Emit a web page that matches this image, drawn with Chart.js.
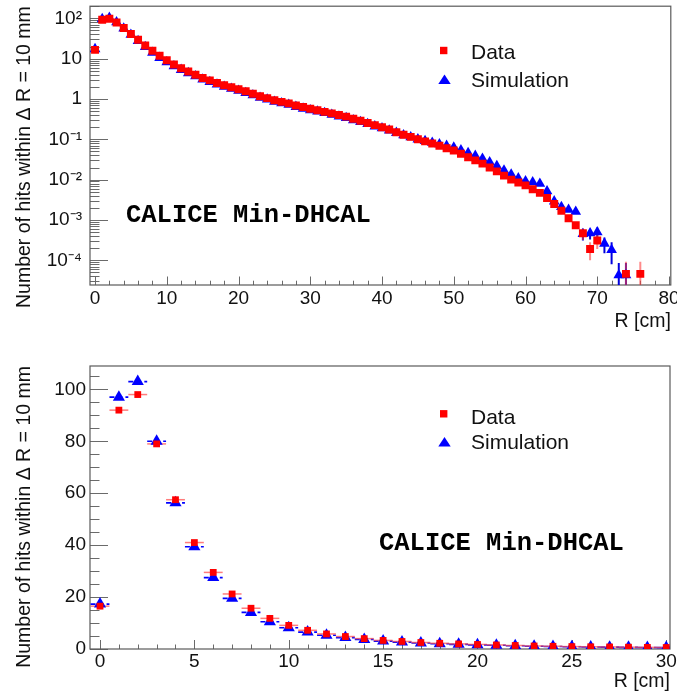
<!DOCTYPE html>
<html><head><meta charset="utf-8">
<script src="https://cdn.jsdelivr.net/npm/chart.js@4.4.1/dist/chart.umd.min.js"></script>
<style>
html,body{margin:0;padding:0;background:#fff;}
#wrap{position:relative;width:677px;height:697px;overflow:hidden;background:#fff;}
canvas{position:absolute;left:0;}
#c1{top:0}
#c2{top:345px}
</style></head><body>
<div id="wrap"><canvas id="c1" width="677" height="345"></canvas><canvas id="c2" width="677" height="352"></canvas></div>
<script>
// ---------------- data ----------------
const R_CM = [0,1,2,3,4,5,6,7,8,9,10,11,12,13,14,15,16,17,18,19,20,21,22,23,24,25,26,27,28,29,30,
  31,32,33,34,35,36,37,38,39,40,41,42,43,44,45,46,47,48,49,50,51,52,53,54,55,56,57,58,59,60,
  61,62,63,64,65,66,67,68,69,70,71,72,73,74,75,76];

const DATA_HITS = [16.5,92,98,79,57.5,41,29.5,21.2,15.7,11.8,9.1,7.2,5.8,4.8,4.0,3.3,2.9,2.5,2.2,1.95,1.75,
  1.55,1.35,1.17,1.05,0.93,0.85,0.78,0.69,0.63,0.575,
  0.525,0.48,0.44,0.40,0.365,0.325,0.29,0.255,0.225,0.20,
  0.175,0.15,0.13,0.115,0.10,0.089,0.079,0.069,0.06,0.053,
  0.044,0.036,0.030,0.025,0.020,0.016,0.0126,0.010,0.0085,0.0072,
  0.0058,0.0047,0.0035,0.0025,0.0017,0.0011,0.00074,0.00047,0.00019,0.00031,
  null,null,null,4.6e-5,null,4.6e-5];

const SIM_HITS = [17.3,97,103,80,56.3,39.4,27.5,19.5,14.1,10.5,8.2,6.5,5.3,4.4,3.7,3.05,2.65,2.3,2.03,1.8,1.6,
  1.42,1.24,1.08,0.97,0.86,0.79,0.72,0.64,0.58,0.53,
  0.49,0.45,0.41,0.37,0.34,0.30,0.27,0.24,0.21,0.19,
  0.167,0.145,0.127,0.113,0.10,0.091,0.083,0.076,0.069,0.063,
  0.054,0.046,0.039,0.033,0.027,0.022,0.017,0.0135,0.0108,0.0092,
  0.0087,0.0079,0.0052,0.0029,0.0021,0.0018,0.0016,0.00045,0.00047,0.0005,
  0.00026,0.00018,4.3e-5,4.3e-5,null,null];

// visible vertical error bars in the tail of the log panel
const DATA_ERR_R = [68,69,70,74,76];
const DATA_ERR   = [1.5e-4,0.9e-4,1.2e-4,4.6e-5,4.6e-5];
const SIM_ERR_R  = [68,69,70,71,72,73,74];
const SIM_ERR    = [1.4e-4,1.4e-4,1.5e-4,1.1e-4,1.0e-4,4.3e-5,4.3e-5];
const BIN_HALF_WIDTH = 0.5;

// tick labels
const TOP_Y_TICKS  = [1e-4,1e-3,1e-2,1e-1,1,10,100];
const TOP_Y_LABELS = ['10\u207B\u2074','10\u207B\u00B3','10\u207B\u00B2','10\u207B\u00B9','1','10','10\u00B2'];
const TOP_X_TICKS  = [0,10,20,30,40,50,60,70,80];
const TOP_X_LABELS = ['0','10','20','30','40','50','60','70','80'];
const BOT_Y_TICKS  = [0,20,40,60,80,100];
const BOT_Y_LABELS = ['0','20','40','60','80','100'];
const BOT_X_TICKS  = [0,5,10,15,20,25,30];
const BOT_X_LABELS = ['0','5','10','15','20','25','30'];

const LEGEND_LABELS = ['Data','Simulation'];
const Y_TITLE = 'Number of hits within \u0394 R = 10 mm';
const X_TITLE = 'R [cm]';
const TAG = 'CALICE Min-DHCAL';

// ---------------- helpers ----------------
const SANS = '"Liberation Sans", Arial, Helvetica, sans-serif';
const RED = '#ff0000', BLUE = '#0000ff';

function pts(vals, rmax) {
  const out = [];
  R_CM.forEach((r, i) => { if (vals[i] != null && r <= rmax) out.push({x: r, y: vals[i]}); });
  return out;
}
function errPts(rs, errs, vals) {
  return rs.map((r, i) => ({x: r, y: vals[R_CM.indexOf(r)], e: errs[i]}));
}

const rootAxes = {
  id: 'rootAxes',
  beforeDatasetsDraw(chart, args, o) {
    const {ctx, chartArea: a, scales: {x, y}} = chart;
    ctx.save();
    ctx.strokeStyle = '#6a6a6a';
    ctx.lineWidth = 1;
    ctx.beginPath();
    const k0 = Math.ceil(x.min / o.xMinor), k1 = Math.floor(x.max / o.xMinor);
    const ratio = Math.round(o.xMajor / o.xMinor);
    for (let k = k0; k <= k1; k++) {
      const px = Math.round(x.getPixelForValue(k * o.xMinor)) + 0.5;
      const len = (k % ratio === 0) ? o.xMajorLen : o.xMinorLen;
      ctx.moveTo(px, a.bottom); ctx.lineTo(px, a.bottom - len);
    }
    if (o.yLog) {
      for (let d = -6; d <= 3; d++) {
        for (let m = 1; m <= 9; m++) {
          const v = m * Math.pow(10, d);
          if (v < y.min || v > y.max) continue;
          const py = Math.round(y.getPixelForValue(v)) + 0.5;
          const len = (m === 1) ? o.yMajorLen : o.yMinorLen;
          ctx.moveTo(a.left, py); ctx.lineTo(a.left + len, py);
        }
      }
    } else {
      const j0 = Math.ceil(y.min / o.yMinor), j1 = Math.floor(y.max / o.yMinor);
      const r2 = Math.round(o.yMajor / o.yMinor);
      for (let j = j0; j <= j1; j++) {
        const py = Math.round(y.getPixelForValue(j * o.yMinor)) + 0.5;
        const len = (j % r2 === 0) ? o.yMajorLen : o.yMinorLen;
        ctx.moveTo(a.left, py); ctx.lineTo(a.left + len, py);
      }
    }
    ctx.stroke();
    ctx.strokeStyle = '#5a5a5a';
    ctx.lineWidth = 1.2;
    ctx.strokeRect(a.left, a.top, a.right - a.left, a.bottom - a.top);
    ctx.restore();

    ctx.save();
    ctx.beginPath(); ctx.rect(a.left, a.top, a.right - a.left, a.bottom - a.top); ctx.clip();
    (o.bars || []).forEach(s => {
      ctx.strokeStyle = s.color; ctx.lineWidth = s.width; ctx.setLineDash(s.dash || []);
      s.points.forEach(p => {
        ctx.beginPath();
        const py = y.getPixelForValue(p.y);
        if (s.horizontal) {
          ctx.moveTo(x.getPixelForValue(p.x - BIN_HALF_WIDTH), py);
          ctx.lineTo(x.getPixelForValue(p.x + BIN_HALF_WIDTH), py);
        }
        if (p.e) {
          const px = x.getPixelForValue(p.x);
          const lo = (p.y - p.e) <= 0 ? a.bottom + 2 : y.getPixelForValue(p.y - p.e);
          ctx.moveTo(px, lo); ctx.lineTo(px, y.getPixelForValue(p.y + p.e));
        }
        ctx.stroke();
      });
    });
    ctx.restore();
  },
  afterDraw(chart, args, o) {
    const {ctx, chartArea: a} = chart;
    ctx.save();
    ctx.fillStyle = '#111';
    ctx.save();
    ctx.font = '19.5px ' + SANS;
    ctx.translate(o.yTitleX, a.top);
    ctx.rotate(-Math.PI / 2);
    ctx.textAlign = 'right'; ctx.textBaseline = 'alphabetic';
    ctx.fillText(Y_TITLE, 0, 0);
    ctx.restore();
    const L = o.legend;
    ctx.fillStyle = RED;
    ctx.fillRect(L.x - 3.7, L.y1 - 3.7, 7.4, 7.4);
    ctx.fillStyle = BLUE;
    ctx.beginPath();
    ctx.moveTo(L.x + 0.8, L.y2 - 5);
    ctx.lineTo(L.x + 0.8 + 6.2, L.y2 + 4.5);
    ctx.lineTo(L.x + 0.8 - 6.2, L.y2 + 4.5);
    ctx.closePath(); ctx.fill();
    ctx.fillStyle = '#111';
    ctx.font = '21px ' + SANS;
    ctx.textAlign = 'left'; ctx.textBaseline = 'alphabetic';
    ctx.fillText(LEGEND_LABELS[0], L.tx, L.b1);
    ctx.fillText(LEGEND_LABELS[1], L.tx, L.b2);
    ctx.font = 'bold 25.5px "Liberation Mono", "Courier New", "DejaVu Sans Mono", monospace';
    ctx.fillStyle = '#000';
    ctx.fillText(TAG, o.tag.x, o.tag.y);
    ctx.restore();
  }
};

function axisFont(size) { return {family: SANS, size: size}; }

function makeChart(id, cfg) {
  return new Chart(document.getElementById(id), {
    type: 'scatter',
    data: {
      datasets: [
        {label: LEGEND_LABELS[0], data: cfg.dataPts, pointStyle: 'rect', pointRadius: cfg.rectR,
         backgroundColor: RED, borderWidth: 0, pointBorderWidth: 0, showLine: false},
        {label: LEGEND_LABELS[1], data: cfg.simPts, pointStyle: 'triangle', pointRadius: cfg.triR,
         backgroundColor: BLUE, borderWidth: 0, pointBorderWidth: 0, showLine: false}
      ]
    },
    options: {
      responsive: false, animation: false, devicePixelRatio: 1, events: [],
      layout: {padding: {left: 0, right: 6, top: cfg.padTop, bottom: 0}},
      plugins: {
        legend: {display: false}, tooltip: {enabled: false},
        rootAxes: cfg.axes
      },
      scales: {
        x: {
          type: 'linear', min: cfg.xMin, max: cfg.xMax,
          afterBuildTicks: s => { s.ticks = cfg.xTicks.map(v => ({value: v})); },
          afterFit: s => { s.height = cfg.xHeight; s.paddingLeft = 0; s.paddingRight = 0; },
          grid: {display: false, drawTicks: false}, border: {display: false},
          ticks: {autoSkip: false, maxRotation: 0, padding: cfg.xTickPad, color: '#111', font: axisFont(19),
                  callback: (v, i) => cfg.xLabels[i]},
          title: {display: true, text: X_TITLE, align: 'end', color: '#111', font: axisFont(19.5),
                  padding: {top: 0, bottom: cfg.xTitlePad}}
        },
        y: {
          type: cfg.yType, min: cfg.yMin, max: cfg.yMax,
          afterBuildTicks: s => { s.ticks = cfg.yTicks.map(v => ({value: v})); },
          afterFit: s => { s.width = 90; s.paddingTop = 0; s.paddingBottom = 0; },
          grid: {display: false, drawTicks: false}, border: {display: false},
          ticks: {autoSkip: false, padding: cfg.yTickPad, color: '#111', font: axisFont(19),
                  callback: (v, i) => cfg.yLabels[i]}
        }
      }
    },
    plugins: [rootAxes]
  });
}

// ---------------- top panel: log scale ----------------
makeChart('c1', {
  dataPts: pts(DATA_HITS, 80), simPts: pts(SIM_HITS, 80), rectR: 5.6, triR: 6.2,
  padTop: 3, xMin: -0.7, xMax: 80.25, xTicks: TOP_X_TICKS, xLabels: TOP_X_LABELS,
  xHeight: 60, xTickPad: 2, xTitlePad: 12,
  yType: 'logarithmic', yMin: 2.44e-5, yMax: 200, yTicks: TOP_Y_TICKS, yLabels: TOP_Y_LABELS, yTickPad: 8,
  axes: {
    xMinor: 2, xMajor: 10, xMajorLen: 8.5, xMinorLen: 4.3,
    yLog: true, yMajorLen: 18, yMinorLen: 9.5,
    yTitleX: 30,
    legend: {x: 443.7, y1: 50.5, y2: 79.5, tx: 471, b1: 59, b2: 86.5},
    tag: {x: 126, y: 221.5},
    bars: [
      {color: '#0000dd', width: 2, points: errPts(SIM_ERR_R, SIM_ERR, SIM_HITS)},
      {color: 'rgba(255,60,60,0.6)', width: 2, points: errPts(DATA_ERR_R, DATA_ERR, DATA_HITS)}
    ]
  }
});

// ---------------- bottom panel: linear scale ----------------
makeChart('c2', {
  dataPts: pts(DATA_HITS, 30), simPts: pts(SIM_HITS, 30), rectR: 4.8, triR: 7,
  padTop: 21, xMin: -0.53, xMax: 30.2, xTicks: BOT_X_TICKS, xLabels: BOT_X_LABELS,
  xHeight: 48, xTickPad: 1, xTitlePad: 3.6,
  yType: 'linear', yMin: 0, yMax: 109, yTicks: BOT_Y_TICKS, yLabels: BOT_Y_LABELS, yTickPad: 4,
  axes: {
    xMinor: 1, xMajor: 5, xMajorLen: 9, xMinorLen: 4.5,
    yLog: false, yMinor: 5, yMajor: 20, yMajorLen: 18, yMinorLen: 9.5,
    yTitleX: 30,
    legend: {x: 443.7, y1: 68.8, y2: 97, tx: 471, b1: 79, b2: 104.2},
    tag: {x: 379, y: 205},
    bars: [
      {color: BLUE, width: 1.6, dash: [5, 3], horizontal: true, points: pts(SIM_HITS, 30)},
      {color: 'rgba(255,80,80,0.75)', width: 1.5, horizontal: true, points: pts(DATA_HITS, 30)}
    ]
  }
});
</script>
</body></html>
